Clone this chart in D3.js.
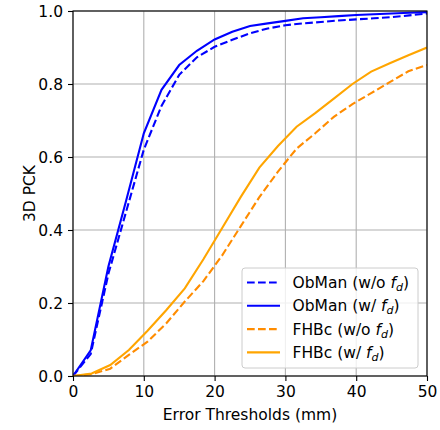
<!DOCTYPE html>
<html lang="en">
<head>
<meta charset="utf-8">
<script src="https://d3js.org/d3.v7.min.js"></script>
<style>
  body { margin: 0; background: #fff; }
  text { font-family: "DejaVu Sans", sans-serif; fill: #000; }
</style>
</head>
<body>
<script>
// thresholds (mm)
var obmanX = [0, 2.5, 5, 7.5, 10, 12.5, 15, 17.5, 20, 22.5, 25, 27.5, 30, 32.5, 35, 37.5, 40, 42.5, 45, 47.5, 50];
var fhbX = [0, 2.63, 5.26, 7.89, 10.53, 13.16, 15.79, 18.42, 21.05, 23.68, 26.32, 28.95, 31.58, 34.21, 36.84, 39.47, 42.11, 44.74, 47.37, 50];

// PCK values
var obmanWo = [0, 0.06, 0.28, 0.45, 0.62, 0.74, 0.825, 0.873, 0.902, 0.921, 0.939, 0.952, 0.961, 0.966, 0.970, 0.974, 0.977, 0.980, 0.983, 0.988, 0.993];
var obmanW  = [0, 0.07, 0.30, 0.48, 0.665, 0.784, 0.852, 0.891, 0.922, 0.943, 0.959, 0.966, 0.973, 0.980, 0.983, 0.986, 0.989, 0.991, 0.993, 0.995, 0.997];
var fhbWo   = [0, 0.005, 0.02, 0.058, 0.094, 0.144, 0.204, 0.26, 0.33, 0.41, 0.49, 0.56, 0.623, 0.665, 0.71, 0.745, 0.775, 0.805, 0.835, 0.852];
var fhbW    = [0, 0.007, 0.03, 0.071, 0.124, 0.18, 0.24, 0.32, 0.405, 0.49, 0.571, 0.63, 0.683, 0.72, 0.76, 0.80, 0.834, 0.857, 0.879, 0.90];

var xTicks = [0, 10, 20, 30, 40, 50];
var yTicks = [0, 0.2, 0.4, 0.6, 0.8, 1.0];

var series = [
  { name: "ObMan (w/o ", x: obmanX, y: obmanWo, color: "#0000ff", dash: "7.7,3.3" },
  { name: "ObMan (w/ ",  x: obmanX, y: obmanW,  color: "#0000ff", dash: null },
  { name: "FHBc (w/o ",  x: fhbX,   y: fhbWo,   color: "#ff8c00", dash: "7.7,3.3" },
  { name: "FHBc (w/ ",   x: fhbX,   y: fhbW,    color: "#ffa500", dash: null }
];

var width = 440, height = 430;
var pLeft = 73, pRight = 427, pTop = 11, pBottom = 376;
var fs = 15.5;

var svg = d3.select("body").append("svg")
  .attr("width", width)
  .attr("height", height);

var x = d3.scaleLinear().domain([0, 50]).range([pLeft, pRight]);
var y = d3.scaleLinear().domain([0, 1]).range([pBottom, pTop]);

// grid
svg.append("g").selectAll("line").data(xTicks).enter().append("line")
  .attr("x1", d => x(d)).attr("x2", d => x(d))
  .attr("y1", pTop).attr("y2", pBottom)
  .attr("stroke", "#b0b0b0").attr("stroke-width", 1.1);
svg.append("g").selectAll("line").data(yTicks).enter().append("line")
  .attr("y1", d => y(d)).attr("y2", d => y(d))
  .attr("x1", pLeft).attr("x2", pRight)
  .attr("stroke", "#b0b0b0").attr("stroke-width", 1.1);

// curves
svg.append("clipPath").attr("id", "clip").append("rect")
  .attr("x", pLeft).attr("y", pTop).attr("width", pRight - pLeft).attr("height", pBottom - pTop);

var line = d3.line();
svg.append("g").attr("clip-path", "url(#clip)")
  .selectAll("path").data(series).enter().append("path")
  .attr("d", s => line(s.x.map((v, i) => [x(v), y(s.y[i])])))
  .attr("fill", "none")
  .attr("stroke", s => s.color)
  .attr("stroke-width", 2.1)
  .attr("stroke-dasharray", s => s.dash);

// axes
var xAxis = svg.append("g").attr("transform", "translate(0," + pBottom + ")")
  .call(d3.axisBottom(x).tickValues(xTicks).tickFormat(d3.format("d")).tickSize(5).tickPadding(5));
var yAxis = svg.append("g").attr("transform", "translate(" + pLeft + ",0)")
  .call(d3.axisLeft(y).tickValues(yTicks).tickFormat(d3.format(".1f")).tickSize(5).tickPadding(5));
[xAxis, yAxis].forEach(function (g) {
  g.select(".domain").remove();
  g.selectAll("line").attr("stroke", "#000").attr("stroke-width", 1.1);
  g.selectAll("text").attr("font-size", fs).attr("font-family", "DejaVu Sans").attr("fill", "#000");
});
xAxis.selectAll("text").attr("dy", "0.73em");
yAxis.selectAll("text").attr("dy", "0.36em");

// frame
svg.append("rect")
  .attr("x", pLeft).attr("y", pTop).attr("width", pRight - pLeft).attr("height", pBottom - pTop)
  .attr("fill", "none").attr("stroke", "#000").attr("stroke-width", 1.1);

// axis labels
svg.append("text")
  .attr("x", (pLeft + pRight) / 2).attr("y", 419.5)
  .attr("text-anchor", "middle").attr("font-size", fs)
  .text("Error Thresholds (mm)");
svg.append("text")
  .attr("transform", "translate(34.5," + (pTop + pBottom) / 2 + ") rotate(-90)")
  .attr("text-anchor", "middle").attr("font-size", fs)
  .text("3D PCK");

// legend
var leg = svg.append("g");
leg.append("rect")
  .attr("x", 242).attr("y", 268).attr("width", 176).attr("height", 100)
  .attr("rx", 3).attr("fill", "#fff").attr("fill-opacity", 0.8)
  .attr("stroke", "#cccccc").attr("stroke-width", 1);

var rows = leg.selectAll("g.row").data(series).enter().append("g")
  .attr("class", "row")
  .attr("transform", (d, i) => "translate(0," + (282.5 + i * 23.3) + ")");
rows.append("line")
  .attr("x1", 247).attr("x2", 280).attr("y1", 0).attr("y2", 0)
  .attr("stroke", d => d.color).attr("stroke-width", 2.1)
  .attr("stroke-dasharray", d => d.dash);
var t = rows.append("text")
  .attr("x", 292.5).attr("y", 5.5).attr("font-size", fs);
t.append("tspan").text(d => d.name);
t.append("tspan").attr("font-style", "italic").text("f");
t.append("tspan").attr("font-style", "italic").attr("font-size", 11).attr("dy", 3).text("d");
t.append("tspan").attr("dy", -3).text(")");
</script>
</body>
</html>
